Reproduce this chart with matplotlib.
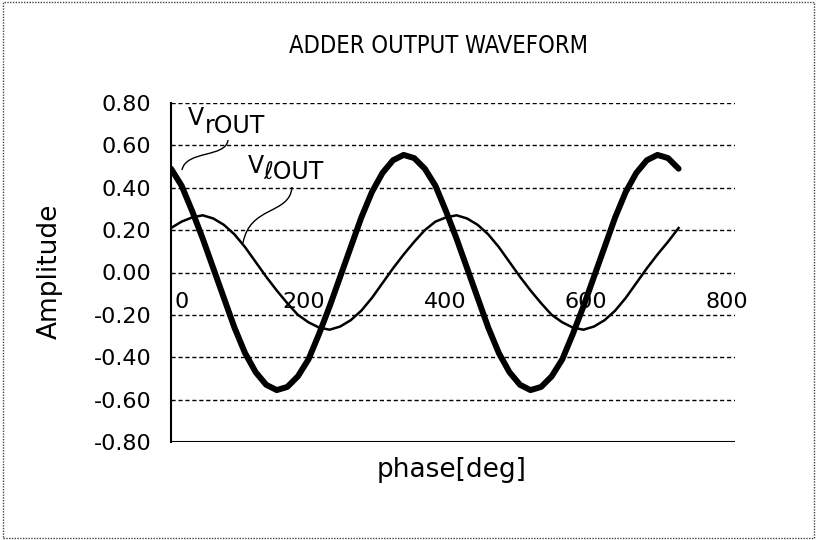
import matplotlib
matplotlib.use("Agg")
import matplotlib.pyplot as plt
from matplotlib.path import Path
from matplotlib.patches import PathPatch, Rectangle
from matplotlib.transforms import ScaledTranslation

plt.rcParams['font.family'] = ['DejaVu Sans']
plt.rcParams['axes.unicode_minus'] = False

W, H = 817, 540

# phase samples [deg] and the two adder outputs
phase = [0, 15, 30, 45, 60, 75, 90, 105, 120, 135, 150, 165, 180,
         195, 210, 225, 240, 255, 270, 285, 300, 315, 330, 345, 360,
         375, 390, 405, 420, 435, 450, 465, 480, 495, 510, 525, 540,
         555, 570, 585, 600, 615, 630, 645, 660, 675, 690, 705, 720]
v_r_out = [0.49, 0.41, 0.29, 0.16, 0.02, -0.12, -0.26, -0.38, -0.47, -0.53, -0.555, -0.54, -0.49,
           -0.41, -0.29, -0.16, -0.02, 0.12, 0.26, 0.38, 0.47, 0.53, 0.555, 0.54, 0.49,
           0.41, 0.29, 0.16, 0.02, -0.12, -0.26, -0.38, -0.47, -0.53, -0.555, -0.54, -0.49,
           -0.41, -0.29, -0.16, -0.02, 0.12, 0.26, 0.38, 0.47, 0.53, 0.555, 0.54, 0.49]
v_l_out = [0.21, 0.24, 0.26, 0.27, 0.255, 0.225, 0.18, 0.12, 0.05, -0.02, -0.085, -0.145, -0.20,
           -0.235, -0.26, -0.27, -0.255, -0.225, -0.18, -0.12, -0.05, 0.02, 0.085, 0.145, 0.20,
           0.24, 0.26, 0.27, 0.255, 0.225, 0.18, 0.12, 0.05, -0.02, -0.085, -0.145, -0.20,
           -0.235, -0.26, -0.27, -0.255, -0.225, -0.18, -0.12, -0.05, 0.02, 0.085, 0.145, 0.21]

x_ticks = [0, 200, 400, 600, 800]
y_ticks = [-0.8, -0.6, -0.4, -0.2, 0.0, 0.2, 0.4, 0.6, 0.8]


def px(x, y):
    # image pixel -> figure fraction
    return x / W, 1 - y / H


fig = plt.figure(figsize=(W / 100, H / 100), dpi=100)
ax = fig.add_axes([171 / W, 1 - 442 / H, (735 - 171) / W, (442 - 103) / H])

ax.plot(phase, v_r_out, color='black', lw=4.3, solid_capstyle='round', zorder=3)
ax.plot(phase, v_l_out, color='black', lw=1.8, zorder=3)

ax.set_xlim(0, 800)
ax.set_ylim(-0.8, 0.8)
ax.set_xticks(x_ticks)
ax.set_yticks(y_ticks)
ax.set_yticklabels(['%.2f' % v for v in y_ticks])
ax.tick_params(axis='both', length=0, labelsize=16)
ax.tick_params(axis='y', pad=14)
ax.tick_params(axis='x', pad=14)

ax.yaxis.grid(True, color='black', linestyle=(0, (3, 2)), lw=1.0)
ax.set_axisbelow(True)
for s in ['top', 'right']:
    ax.spines[s].set_visible(False)
ax.spines['left'].set_linewidth(1.5)
ax.spines['bottom'].set_position(('data', 0))
ax.spines['bottom'].set_visible(False)
ax.axhline(-0.8, color='black', lw=1.5, zorder=2)

for lab in ax.get_xticklabels():
    if lab.get_text() == '0':
        lab.set_ha('left')
        lab.set_transform(lab.get_transform() + ScaledTranslation(3 / 100, 0, fig.dpi_scale_trans))
    else:
        lab.set_transform(lab.get_transform() + ScaledTranslation(-8 / 100, 0, fig.dpi_scale_trans))

# titles
fig.text(*px(439, 46), 'ADDER OUTPUT WAVEFORM', ha='center', va='center', fontsize=17,
         fontstretch='condensed')
fig.text(*px(452, 470), 'phase[deg]', ha='center', va='center', fontsize=19)
fig.text(*px(50, 271), 'Amplitude', ha='center', va='center', rotation=90, fontsize=19)

# curve labels
fig.text(*px(188, 125), 'V', fontsize=17, va='baseline')
fig.text(*px(205, 133), 'rOUT', fontsize=17, va='baseline')
fig.text(*px(248, 173), 'V', fontsize=17, va='baseline')
fig.text(*px(263, 179), 'ℓOUT', fontsize=17, va='baseline')

# leader lines
for pts in ([(228, 140), (226, 158), (186, 150), (182, 170)],
            [(292, 187), (290, 215), (250, 205), (243, 243)]):
    path = Path([px(*p) for p in pts], [Path.MOVETO, Path.CURVE4, Path.CURVE4, Path.CURVE4])
    fig.patches.append(PathPatch(path, fill=False, lw=1.0, ec='black', transform=fig.transFigure))

# dotted outer frame
fig.patches.append(Rectangle((0.004, 0.004), 0.992, 0.992, fill=False, lw=1.0, ec='#444444',
                             linestyle=(0, (1, 1)), transform=fig.transFigure))

fig.savefig('out.png', dpi=100)
